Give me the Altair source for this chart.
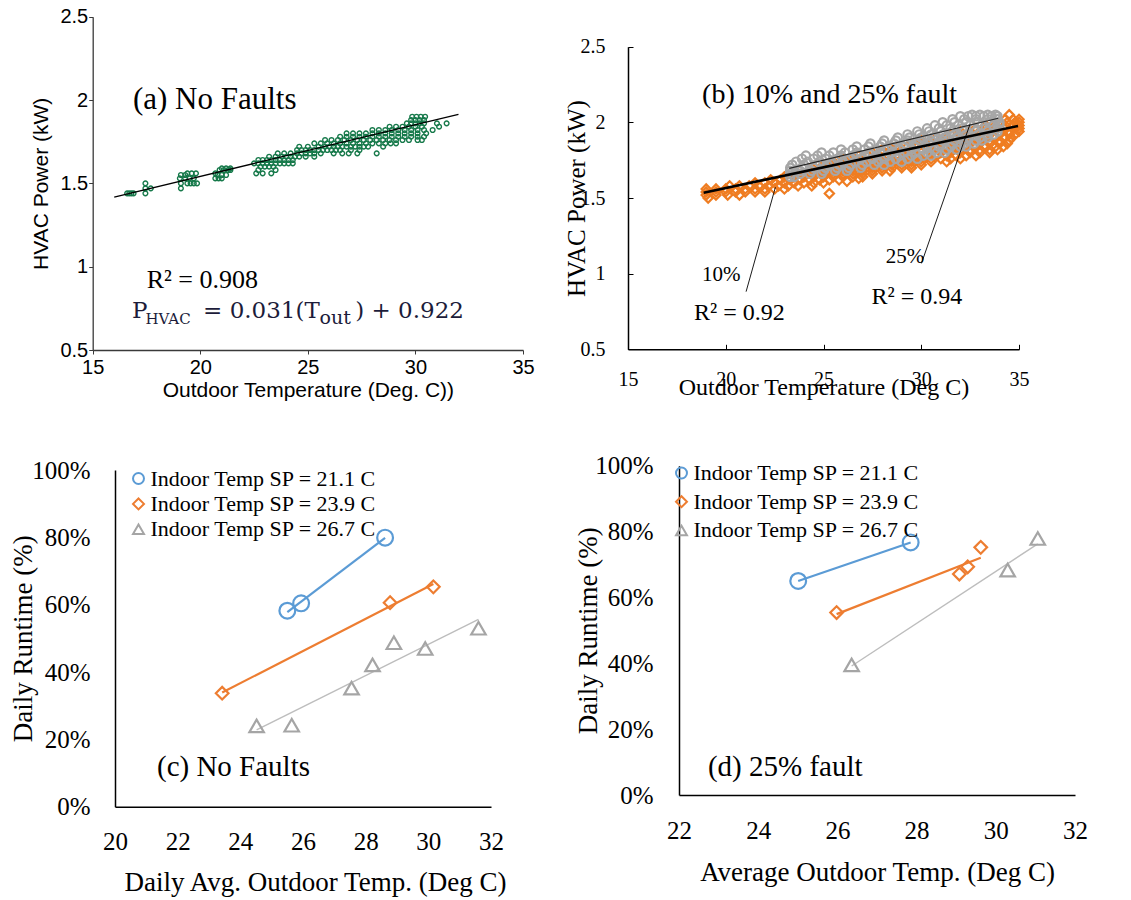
import altair as alt
import pandas as pd

SANS = "Liberation Sans"
SERIF = "Liberation Serif"
MATH = "DejaVu Serif"
W, H = 1131, 900

GREEN = "#16794a"
B_ORANGE = "#ef7d22"
B_GRAY = "#a6a6a6"
BLUE = "#5b9bd5"
ORANGE = "#ed7d31"
GRAY = "#a5a5a5"
GRAY_FIT = "#bdbdbd"
EQ_COLOR = "#1c1c3a"

# ================= (a) No Faults : HVAC power vs outdoor temperature =================
A_XTICKS = [15, 20, 25, 30, 35]
A_YTICKS = [0.5, 1.0, 1.5, 2.0, 2.5]
# rows of measured points: (power kW, [outdoor temperatures])
A_ROWS = [
    (1.44, [16.6, 16.7, 16.8, 16.9, 17.45]),
    (1.47, [17.45, 17.7, 19.1]),
    (1.50, [17.45, 19.1, 19.4, 19.55, 19.7, 19.85]),
    (1.53, [19.05, 19.3, 19.5, 19.7, 20.7, 20.85, 21.0]),
    (1.55, [19.1, 19.3, 20.8, 21.0, 21.2]),
    (1.56, [19.4, 19.6, 19.8, 20.7, 22.6, 22.9, 23.3]),
    (1.58, [20.9, 21.1, 21.3, 21.4, 22.7, 23.5]),
    (1.59, [21.0, 21.2, 21.4]),
    (1.60, [22.8, 23.0, 23.2, 23.4]),
    (1.62, [22.5, 22.7, 22.9, 23.1, 23.3, 23.5, 23.7, 23.9, 24.1, 24.3]),
    (1.64, [22.7, 22.9, 23.1, 23.3, 23.5, 23.7, 23.9, 24.1, 24.3]),
    (1.66, [23.2, 23.5, 23.8, 24.0, 24.2, 24.4, 24.6, 24.9, 25.3]),
    (1.68, [23.6, 23.9, 24.2, 24.5, 24.7, 24.9, 25.1, 25.3, 25.6, 26.2, 26.6, 26.9, 27.3, 28.2]),
    (1.70, [24.5, 24.7, 24.9, 25.1, 25.3, 25.5, 25.7, 25.9, 26.1, 26.3, 26.5, 27.0, 27.4]),
    (1.72, [24.6, 25.0, 25.5, 25.8, 26.0, 26.2, 26.4, 26.6, 26.8, 27.0, 27.2, 27.4, 27.6, 27.8, 28.5]),
    (1.74, [25.3, 25.6, 25.9, 26.2, 26.5, 26.8, 27.1, 27.4, 27.7, 28.0, 28.3, 28.6, 28.85, 29.1]),
    (1.76, [25.8, 26.1, 26.4, 26.7, 27.0, 27.3, 27.6, 27.9, 28.2, 28.5, 28.8, 29.1, 29.4, 29.7, 30.1, 30.3]),
    (1.78, [26.5, 26.8, 27.1, 27.4, 27.7, 28.0, 28.3, 28.6, 28.9, 29.2, 29.5, 29.8, 30.1, 30.4]),
    (1.80, [26.8, 27.1, 27.4, 27.7, 28.0, 28.3, 28.6, 28.9, 29.2, 29.5, 29.8, 30.1, 30.5]),
    (1.82, [28.0, 28.3, 28.6, 28.9, 29.2, 29.5, 29.8, 30.1, 30.4, 30.8]),
    (1.84, [28.8, 29.1, 29.4, 29.7, 30.0, 30.3, 31.1]),
    (1.86, [29.6, 29.8, 30.0, 30.2, 30.4, 31.0, 31.45]),
    (1.88, [29.8, 30.0, 30.2, 30.4]),
    (1.90, [29.85, 30.05, 30.25, 30.45]),
]
A_FIT_X = [16.0, 32.0]
A_FIT_Y = [1.418, 1.914]
A_TXT = ["(a) No Faults", "R\u00b2 = 0.908"]
A_TXT_X = [16.87, 17.51]
A_TXT_Y = [2.0, 0.92]
A_TXT_FS = [31, 26]
EQ_TXT = ["P", "HVAC", "= 0.031(T", "out", ") + 0.922"]
EQ_X = [16.83, 17.45, 20.13, 25.54, 27.2]
EQ_Y = [0.69, 0.656, 0.69, 0.656, 0.69]
EQ_FS = [23, 15, 23, 19, 23]

# ================= (b) 10% and 25% fault =================
B_XTICKS = [15, 20, 25, 30, 35]
B_YTICKS = [0.5, 1.0, 1.5, 2.0, 2.5]
B10_ROWS = [
    (1.50, [19.1]),
    (1.52, [19.0, 19.5, 20.1, 20.7]),
    (1.53, [25.3]),
    (1.54, [19.0, 19.5, 20.0, 20.5, 21.0, 21.5, 22.0]),
    (1.56, [19.0, 19.5, 20.0, 20.5, 21.0, 21.5, 22.0, 22.5, 23.0]),
    (1.58, [20.2, 20.7, 21.2, 21.7, 22.2, 22.7, 23.2, 23.7, 24.4]),
    (1.60, [21.5, 22.0, 22.5, 23.0, 23.5, 24.0, 24.5, 25.0]),
    (1.61, [26.2]),
    (1.62, [22.3, 22.8, 23.3, 23.8, 24.3, 24.8, 25.3, 25.8]),
    (1.63, [26.8]),
    (1.64, [23.0, 23.5, 24.0, 24.5, 25.0, 25.5, 26.0, 26.5, 27.0]),
    (1.66, [23.5, 24.0, 24.5, 25.0, 25.5, 26.0, 26.5, 27.0, 27.5]),
    (1.68, [23.8, 24.5, 25.0, 25.5, 26.0, 26.5, 27.0, 27.5, 28.0, 28.4]),
    (1.70, [24.4, 25.0, 25.5, 26.0, 26.5, 27.0, 27.5, 28.0, 28.5, 29.0, 29.5]),
    (1.72, [25.0, 25.5, 26.0, 26.5, 27.0, 27.5, 28.0, 28.5, 29.0, 29.5, 30.0]),
    (1.74, [25.5, 26.0, 26.5, 27.0, 27.5, 28.0, 28.5, 29.0, 29.5, 30.0, 30.5, 31.3]),
    (1.76, [26.0, 26.5, 27.0, 27.5, 28.0, 28.5, 29.0, 29.5, 30.0, 30.5, 31.0, 31.5, 32.0]),
    (1.78, [26.8, 27.3, 27.8, 28.3, 28.8, 29.3, 29.8, 30.3, 30.8, 31.3, 31.8, 32.3, 32.8]),
    (1.80, [27.5, 28.0, 28.5, 29.0, 29.5, 30.0, 30.5, 31.0, 31.5, 32.0, 32.5, 33.0, 33.5]),
    (1.82, [28.0, 28.5, 29.0, 29.5, 30.0, 30.5, 31.0, 31.5, 32.0, 32.5, 33.0, 33.5, 33.9]),
    (1.84, [28.8, 29.3, 29.8, 30.3, 30.8, 31.3, 31.8, 32.3, 32.8, 33.3, 33.8, 34.2]),
    (1.86, [29.5, 30.0, 30.5, 31.0, 31.5, 32.0, 32.5, 33.0, 33.5, 34.0, 34.4]),
    (1.88, [30.0, 30.5, 31.0, 31.5, 32.0, 32.5, 33.0, 33.5, 34.0, 34.5]),
    (1.90, [30.8, 31.3, 31.8, 32.3, 32.8, 33.3, 33.8, 34.3, 34.6]),
    (1.92, [31.5, 32.0, 32.5, 33.0, 33.5, 34.0, 34.5, 34.8]),
    (1.94, [32.0, 32.5, 33.0, 33.5, 34.0, 34.5, 35.0]),
    (1.96, [32.8, 33.3, 33.8, 34.3, 34.8, 35.0]),
    (1.98, [33.3, 33.8, 34.3, 34.7, 35.0]),
    (2.00, [34.0, 34.4, 34.8, 35.0]),
    (2.02, [34.3, 34.7, 35.0]),
    (2.05, [34.5]),
]
B25_ROWS = [
    (1.64, [23.3, 23.5]),
    (1.66, [23.3, 23.8, 24.3, 24.9]),
    (1.68, [23.3, 23.8, 24.4, 25.0, 25.6, 26.2]),
    (1.70, [23.3, 23.9, 24.5, 25.1, 25.7, 26.3, 26.9]),
    (1.72, [23.4, 24.0, 24.6, 25.2, 25.8, 26.4, 27.0, 27.6, 28.1]),
    (1.74, [23.6, 24.2, 24.8, 25.4, 26.0, 26.6, 27.2, 27.8, 28.4, 29.0]),
    (1.76, [23.9, 24.5, 25.1, 25.7, 26.3, 26.9, 27.5, 28.1, 28.7, 29.3, 29.8]),
    (1.78, [24.1, 24.7, 25.3, 25.9, 26.5, 27.1, 27.7, 28.3, 28.9, 29.5, 30.1, 30.5]),
    (1.80, [24.9, 25.5, 26.1, 26.7, 27.3, 27.9, 28.5, 29.1, 29.7, 30.3, 30.8, 31.2]),
    (1.82, [25.9, 26.5, 27.1, 27.7, 28.3, 28.9, 29.5, 30.1, 30.7, 31.3, 31.8]),
    (1.84, [26.7, 27.3, 27.9, 28.5, 29.1, 29.7, 30.3, 30.9, 31.5, 32.0, 32.3]),
    (1.86, [27.4, 28.0, 28.6, 29.2, 29.8, 30.4, 31.0, 31.6, 32.2, 32.7]),
    (1.88, [28.1, 28.7, 29.3, 29.9, 30.5, 31.1, 31.7, 32.3, 32.8, 33.1]),
    (1.90, [28.8, 29.4, 30.0, 30.6, 31.2, 31.8, 32.4, 33.0, 33.4]),
    (1.92, [29.3, 29.9, 30.5, 31.1, 31.7, 32.3, 32.9, 33.4, 33.7]),
    (1.94, [29.8, 30.4, 31.0, 31.6, 32.2, 32.8, 33.4, 33.9]),
    (1.96, [30.3, 30.9, 31.5, 32.1, 32.7, 33.3, 33.9]),
    (1.98, [30.7, 31.3, 31.9, 32.5, 33.1, 33.7, 34.0]),
    (2.00, [31.1, 31.7, 32.3, 32.9, 33.5, 34.0]),
    (2.02, [31.6, 32.2, 32.8, 33.4, 33.9]),
    (2.04, [32.0, 32.4, 32.8, 33.2, 33.6, 33.9]),
    (2.05, [32.6, 33.0, 33.4, 33.8]),
]
B_FIT10_X = [18.87, 34.95]
B_FIT10_Y = [1.535, 1.976]
B_FIT25_X = [23.25, 33.94]
B_FIT25_Y = [1.696, 2.027]
B_LEAD_GRP = ["10%", "10%", "25%", "25%"]
B_LEAD_X = [21.04, 22.54, 30.01, 32.49]
B_LEAD_Y = [0.881, 1.571, 1.068, 1.986]
B_TXT = ["(b) 10% and 25% fault", "10%", "25%", "R\u00b2 = 0.92", "R\u00b2 = 0.94"]
B_TXT_X = [18.79, 18.79, 28.18, 18.38, 27.46]
B_TXT_Y = [2.18, 0.991, 1.11, 0.74, 0.846]
B_TXT_FS = [28, 21, 21, 24, 24]

# ================= (c) and (d) daily runtime =================
SERIES = ["Indoor Temp SP = 21.1 C", "Indoor Temp SP = 23.9 C", "Indoor Temp SP = 26.7 C"]
C_XTICKS = [20, 22, 24, 26, 28, 30, 32]
D_XTICKS = [22, 24, 26, 28, 30, 32]
R_YTICKS = [0.0, 0.2, 0.4, 0.6, 0.8, 1.0]
C_X_211 = [25.5, 25.94, 28.62]
C_Y_211 = [0.582, 0.604, 0.799]
C_X_239 = [23.42, 28.78, 30.16]
C_Y_239 = [0.337, 0.606, 0.653]
C_X_267 = [24.52, 25.64, 27.55, 28.22, 28.9, 29.9, 31.6]
C_Y_267 = [0.240, 0.242, 0.352, 0.421, 0.487, 0.470, 0.530]
D_X_211 = [25.01, 27.85]
D_Y_211 = [0.650, 0.767]
D_X_239 = [25.98, 29.08, 29.29, 29.62]
D_Y_239 = [0.554, 0.671, 0.693, 0.752]
D_X_267 = [26.36, 30.3, 31.06]
D_Y_267 = [0.395, 0.683, 0.779]
C_LABEL = ["(c) No Faults"]
C_LABEL_X = [21.34]
C_LABEL_Y = [0.119]
D_LABEL = ["(d) 25% fault"]
D_LABEL_X = [22.73]
D_LABEL_Y = [0.086]

# per-series marker / trend-line styles
S_MARK_SIZE = [250, 160, 210]
S_LINE_COLOR = [BLUE, ORANGE, GRAY_FIT]
S_LINE_WIDTH = [2.2, 2.2, 1.4]


def rows_df(rows):
    xs, ys = [], []
    for yv, xl in rows:
        for xv in xl:
            xs.append(xv)
            ys.append(yv)
    return pd.DataFrame({"x": xs, "y": ys})


def series_df(x1, y1, x2, y2, x3, y3):
    parts = [(x1, y1), (x2, y2), (x3, y3)]
    recs = []
    for i, (xs, ys) in enumerate(parts):
        for xv, yv in zip(xs, ys):
            recs.append({"x": xv, "y": yv, "series": SERIES[i], "sz": S_MARK_SIZE[i],
                         "lc": S_LINE_COLOR[i], "lw": S_LINE_WIDTH[i]})
    return pd.DataFrame(recs)


def lscale(domain, rng):
    return alt.Scale(domain=domain, range=rng, nice=False, zero=False)


def axis_common(font, lsize, tsize, color="black"):
    return dict(grid=False, labelFont=font, labelFontSize=lsize, titleFont=font,
                titleFontSize=tsize, titleFontWeight="normal", labelColor="black",
                titleColor="black", domainColor=color, tickColor=color,
                labelFlush=False, labelOverlap=False, titleBaseline="middle")


def xy(xs, ys, xax, yax):
    return dict(x=alt.X("x:Q", scale=xs, axis=xax), y=alt.Y("y:Q", scale=ys, axis=yax))


# ---------- panel (a) ----------
A_XS = lscale([15, 35], [92.7, 523])
A_YS = lscale([0.5, 2.5], [350, 16.7])
A_XAX = alt.Axis(orient="bottom", offset=350 - H, values=A_XTICKS, format="~g",
                 title="Outdoor Temperature (Deg. C))", titleY=40, tickSize=4,
                 labelPadding=3, domainWidth=1.3, **axis_common(SANS, 20, 21, "#3a3a3a"))
A_YAX = alt.Axis(orient="left", offset=-92.7, values=A_YTICKS, format="~g",
                 title="HVAC Power (kW)", titleX=-51, tickSize=4, labelPadding=1,
                 domainWidth=1.3, **axis_common(SANS, 20, 21, "#3a3a3a"))
A_ENC = xy(A_XS, A_YS, A_XAX, A_YAX)

a_pts = alt.Chart(rows_df(A_ROWS)).mark_point(
    shape="circle", filled=False, color=GREEN, size=22, strokeWidth=1.4, opacity=1
).encode(**A_ENC)
a_fit = alt.Chart(pd.DataFrame({"x": A_FIT_X, "y": A_FIT_Y})).mark_line(
    color="black", strokeWidth=1.3).encode(**A_ENC)
a_txt = alt.Chart(pd.DataFrame({"x": A_TXT_X, "y": A_TXT_Y, "t": A_TXT, "fs": A_TXT_FS})).mark_text(
    font=SERIF, align="left", baseline="middle", color="black"
).encode(**A_ENC, text="t:N", size=alt.Size("fs:Q", scale=None))
a_eq = alt.Chart(pd.DataFrame({"x": EQ_X, "y": EQ_Y, "t": EQ_TXT, "fs": EQ_FS})).mark_text(
    font=MATH, align="left", baseline="alphabetic", color=EQ_COLOR
).encode(**A_ENC, text="t:N", size=alt.Size("fs:Q", scale=None))
panel_a = alt.layer(a_pts, a_fit, a_txt, a_eq)

# ---------- panel (b) ----------
B_X0, B_Y0 = 628, 349.3
B_XS = lscale([15, 35], [B_X0, 1019])
B_YS = lscale([0.5, 2.5], [B_Y0, 46.7])
B_XAX = alt.Axis(orient="bottom", offset=B_Y0 - H, values=B_XTICKS, format="~g",
                 title="Outdoor Temperature (Deg C)", titleY=38, ticks=False, tickSize=0,
                 labelPadding=20, domainWidth=1.5, **axis_common(SERIF, 20, 24))
B_YAX = alt.Axis(orient="left", offset=-B_X0, values=B_YTICKS, format="~g",
                 title="HVAC Power (kW)", titleX=-52, ticks=False, tickSize=0,
                 labelPadding=23, domainWidth=1.5, **axis_common(SERIF, 20, 25))
B_ENC = xy(B_XS, B_YS, B_XAX, B_YAX)

b_or = alt.Chart(rows_df(B10_ROWS)).mark_point(
    shape="diamond", filled=False, color=B_ORANGE, size=85, strokeWidth=2.2, opacity=1
).encode(**B_ENC)
b_gr = alt.Chart(rows_df(B25_ROWS)).mark_point(
    shape="circle", filled=False, color=B_GRAY, size=70, strokeWidth=2.2, opacity=1
).encode(**B_ENC)
b_fit10 = alt.Chart(pd.DataFrame({"x": B_FIT10_X, "y": B_FIT10_Y})).mark_line(
    color="black", strokeWidth=2.6).encode(**B_ENC)
b_fit25 = alt.Chart(pd.DataFrame({"x": B_FIT25_X, "y": B_FIT25_Y})).mark_line(
    color="#262626", strokeWidth=1.2).encode(**B_ENC)
b_lead = alt.Chart(pd.DataFrame({"x": B_LEAD_X, "y": B_LEAD_Y, "g": B_LEAD_GRP})).mark_line(
    color="black", strokeWidth=0.9).encode(**B_ENC, detail="g:N")
b_txt = alt.Chart(pd.DataFrame({"x": B_TXT_X, "y": B_TXT_Y, "t": B_TXT, "fs": B_TXT_FS})).mark_text(
    font=SERIF, align="left", baseline="middle", color="black"
).encode(**B_ENC, text="t:N", size=alt.Size("fs:Q", scale=None))
panel_b = alt.layer(b_or, b_gr, b_fit10, b_fit25, b_lead, b_txt)

# inward tick marks of panel (b)
b_ticks = alt.Chart(pd.DataFrame({"x": [15], "y": [0.5]})).mark_point(opacity=0).encode(
    x=alt.X("x:Q", scale=B_XS, axis=alt.Axis(orient="top", offset=-B_Y0, values=B_XTICKS,
                                            labels=False, domain=False, tickSize=5,
                                            tickColor="black", grid=False, title=None)),
    y=alt.Y("y:Q", scale=B_YS, axis=alt.Axis(orient="right", offset=B_X0 - W, values=B_YTICKS,
                                            labels=False, domain=False, tickSize=5,
                                            tickColor="black", grid=False, title=None)),
)


# ---------- panels (c) and (d) ----------
def runtime_panel(df, xs, ys, xax, yax, leg_x, leg_y, row_pad, lab, lab_x, lab_y):
    enc = xy(xs, ys, xax, yax)
    leg = alt.Legend(title=None, orient="none", legendX=leg_x, legendY=leg_y,
                     labelFont=SERIF, labelFontSize=22, labelColor="black",
                     symbolSize=120, symbolStrokeWidth=2, labelOffset=1,
                     rowPadding=row_pad, padding=0, labelLimit=400)
    color = alt.Color("series:N", scale=alt.Scale(domain=SERIES, range=[BLUE, ORANGE, GRAY]), legend=leg)
    shape = alt.Shape("series:N", scale=alt.Scale(domain=SERIES, range=["circle", "diamond", "triangle-up"]), legend=leg)
    lines = alt.Chart(df).transform_regression("x", "y", groupby=["series", "lc", "lw"]).mark_line().encode(
        **enc,
        stroke=alt.Stroke("lc:N", scale=None),
        strokeWidth=alt.StrokeWidth("lw:Q", scale=None),
        detail="series:N",
    )
    points = alt.Chart(df).mark_point(filled=False, strokeWidth=2.2, opacity=1).encode(
        **enc, color=color, shape=shape, size=alt.Size("sz:Q", scale=None))
    label = alt.Chart(pd.DataFrame({"x": lab_x, "y": lab_y, "t": lab})).mark_text(
        font=SERIF, fontSize=29, align="left", baseline="middle", color="black"
    ).encode(**enc, text="t:N")
    return alt.layer(lines, points, label)


C_X0, C_Y0 = 115, 806.7
C_XS = lscale([20, 32], [C_X0, 491])
C_YS = lscale([0, 1], [C_Y0, 470])
C_XAX = alt.Axis(orient="bottom", offset=C_Y0 - H, values=C_XTICKS, format="d",
                 title="Daily Avg. Outdoor Temp. (Deg C)", titleY=76, titleX=315,
                 ticks=False, tickSize=0, labelPadding=23, domainWidth=1.5,
                 **axis_common(SERIF, 25, 27))
C_YAX = alt.Axis(orient="left", offset=-C_X0, values=R_YTICKS, format=".0%",
                 title="Daily Runtime (%)", titleX=-92, ticks=False, tickSize=0,
                 labelPadding=25, domainWidth=1.5, **axis_common(SERIF, 25, 27))
panel_c = runtime_panel(series_df(C_X_211, C_Y_211, C_X_239, C_Y_239, C_X_267, C_Y_267),
                        C_XS, C_YS, C_XAX, C_YAX, 127.5, 467.5, 3.4, C_LABEL, C_LABEL_X, C_LABEL_Y)

D_X0, D_Y0 = 679, 795
D_XS = lscale([22, 32], [D_X0, 1075])
D_YS = lscale([0, 1], [D_Y0, 465.7])
D_XAX = alt.Axis(orient="bottom", offset=D_Y0 - H, values=D_XTICKS, format="d",
                 title="Average Outdoor Temp. (Deg C)", titleY=77, ticks=False, tickSize=0,
                 labelPadding=23, domainWidth=1.5, **axis_common(SERIF, 25, 27))
D_YAX = alt.Axis(orient="left", offset=-D_X0, values=R_YTICKS, format=".0%",
                 title="Daily Runtime (%)", titleX=-91, ticks=False, tickSize=0,
                 labelPadding=26, domainWidth=1.5, **axis_common(SERIF, 25, 27))
panel_d = runtime_panel(series_df(D_X_211, D_Y_211, D_X_239, D_Y_239, D_X_267, D_Y_267),
                        D_XS, D_YS, D_XAX, D_YAX, 670.5, 462, 6.7, D_LABEL, D_LABEL_X, D_LABEL_Y)

chart = (
    alt.layer(panel_a, panel_b, b_ticks, panel_c, panel_d)
    .resolve_scale(x="independent", y="independent", color="independent", shape="independent")
    .resolve_axis(x="independent", y="independent")
    .resolve_legend(color="independent", shape="independent")
    .properties(width=W, height=H, padding=0, autosize=alt.AutoSizeParams(type="none"),
                background="white")
    .configure_view(stroke="transparent")
)

chart.save("out.html", embed_options={"renderer": "svg", "actions": False})
